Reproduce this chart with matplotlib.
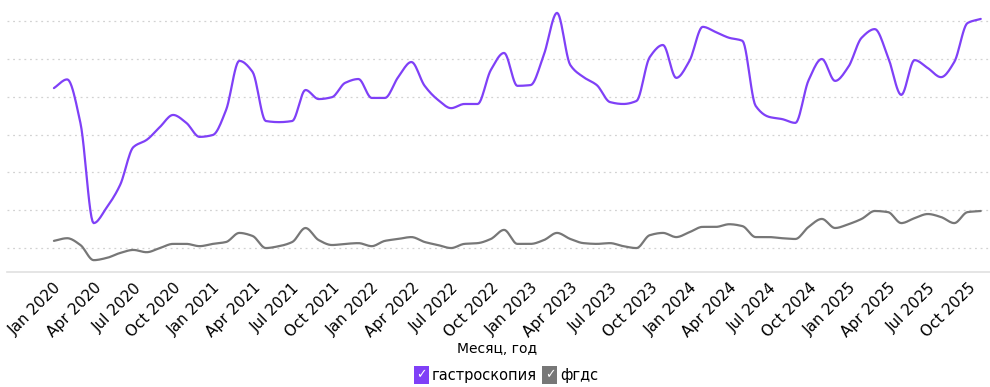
import numpy as np
import matplotlib
matplotlib.use("Agg")
from matplotlib import pyplot as plt

# monthly series, Jan 2020 .. Nov 2025
months = ["Jan", "Feb", "Mar", "Apr", "May", "Jun",
          "Jul", "Aug", "Sep", "Oct", "Nov", "Dec"]
years = [2020, 2021, 2022, 2023, 2024, 2025]
labels = [f"{m} {y}" for y in years for m in months][:71]

gastro = [52.3, 54.6, 43.1, 16.6, 20.8, 26.7, 36.7, 38.6, 42.0, 45.2, 43.1, 39.4,
          39.9, 46.5, 59.5, 56.6, 43.6, 43.3, 43.6, 51.8, 49.4, 49.9, 53.7, 54.7,
          49.7, 49.7, 55.2, 59.2, 52.9, 49.2, 47.0, 48.1, 48.1, 57.1, 61.6, 52.9,
          53.1, 61.1, 72.2, 58.4, 55.2, 53.1, 48.6, 48.1, 48.9, 60.5, 63.7, 55.0,
          59.5, 68.5, 67.1, 65.6, 64.8, 47.6, 44.7, 44.1, 43.1, 54.4, 60.0, 54.2,
          57.9, 65.6, 67.9, 60.5, 50.5, 59.7, 57.6, 55.2, 59.2, 69.5, 70.6]
fgds = [11.9, 12.6, 10.8, 6.8, 7.4, 8.7, 9.5, 8.9, 10.0, 11.1, 11.1, 10.5,
        11.1, 11.6, 14.0, 13.2, 10.0, 10.5, 11.6, 15.3, 12.1, 10.8, 11.1, 11.3,
        10.5, 11.9, 12.4, 12.9, 11.6, 10.8, 10.0, 11.1, 11.3, 12.4, 14.8, 11.1,
        11.1, 12.1, 14.0, 12.4, 11.3, 11.1, 11.3, 10.5, 10.0, 13.4, 14.0, 12.9,
        14.2, 15.6, 15.6, 16.3, 15.8, 12.9, 12.9, 12.6, 12.4, 15.6, 17.7, 15.3,
        16.3, 17.7, 19.8, 19.5, 16.6, 17.9, 19.0, 18.2, 16.6, 19.5, 19.8]


def smooth(y, n=12):
    # monotone cubic (Fritsch-Carlson), keeps flat tops like the original
    y = np.asarray(y, float)
    x = np.arange(len(y), dtype=float)
    d = np.diff(y)
    m = np.zeros_like(y)
    m[0], m[-1] = d[0], d[-1]
    for k in range(1, len(y) - 1):
        if d[k - 1] * d[k] > 0:
            m[k] = 2 / (1 / d[k - 1] + 1 / d[k])
    xs, ys = [], []
    for k in range(len(y) - 1):
        t = np.linspace(0, 1, n, endpoint=False)
        h00 = 2 * t**3 - 3 * t**2 + 1
        h10 = t**3 - 2 * t**2 + t
        h01 = -2 * t**3 + 3 * t**2
        h11 = t**3 - t**2
        xs.append(x[k] + t)
        ys.append(h00 * y[k] + h10 * m[k] + h01 * y[k + 1] + h11 * m[k + 1])
    xs.append([x[-1]])
    ys.append([y[-1]])
    return np.concatenate(xs), np.concatenate(ys)


fig = plt.figure(figsize=(9.9, 3.87), dpi=100)
ax = fig.add_axes([0.007, 0.297, 0.993, 0.703])

xg, yg = smooth(gastro)
xf, yf = smooth(fgds)
ax.plot(xf, yf, color="#777777", lw=1.6, solid_capstyle="round")
ax.plot(xg, yg, color="#7f40f7", lw=1.6, solid_capstyle="round")

ax.set_xlim(-3.55, 70.7)
ax.set_ylim(3.65, 75.6)
ax.set_yticks(range(10, 80, 10))
ax.yaxis.grid(True, color="#d2d2d2", linestyle=(0, (1.5, 3)), lw=0.9)
ax.tick_params(axis="y", left=False, labelleft=False)

ticks = list(range(0, 71, 3))
ax.set_xticks(ticks)
ax.set_xticklabels([labels[i] for i in ticks], rotation=45, ha="right",
                   rotation_mode="anchor", fontsize=11)
ax.tick_params(axis="x", length=0, pad=6)

for s in ["top", "right", "left"]:
    ax.spines[s].set_visible(False)
ax.spines["bottom"].set_color("#e0e0e0")
ax.spines["bottom"].set_linewidth(1.2)

fig.text(0.502, 0.098, "Месяц, год", ha="center", va="center", fontsize=10)

# legend with check boxes
ly = 0.031
fig.text(0.426, ly, "✓", color="white", ha="center", va="center", fontsize=9,
         bbox=dict(boxstyle="square,pad=0.18", fc="#7f40f7", ec="none"))
fig.text(0.436, ly, "гастроскопия", ha="left", va="center", fontsize=10.5)
fig.text(0.5555, ly, "✓", color="white", ha="center", va="center", fontsize=9,
         bbox=dict(boxstyle="square,pad=0.18", fc="#777777", ec="none"))
fig.text(0.566, ly, "фгдс", ha="left", va="center", fontsize=10.5)

fig.savefig("out.png", dpi=100)
